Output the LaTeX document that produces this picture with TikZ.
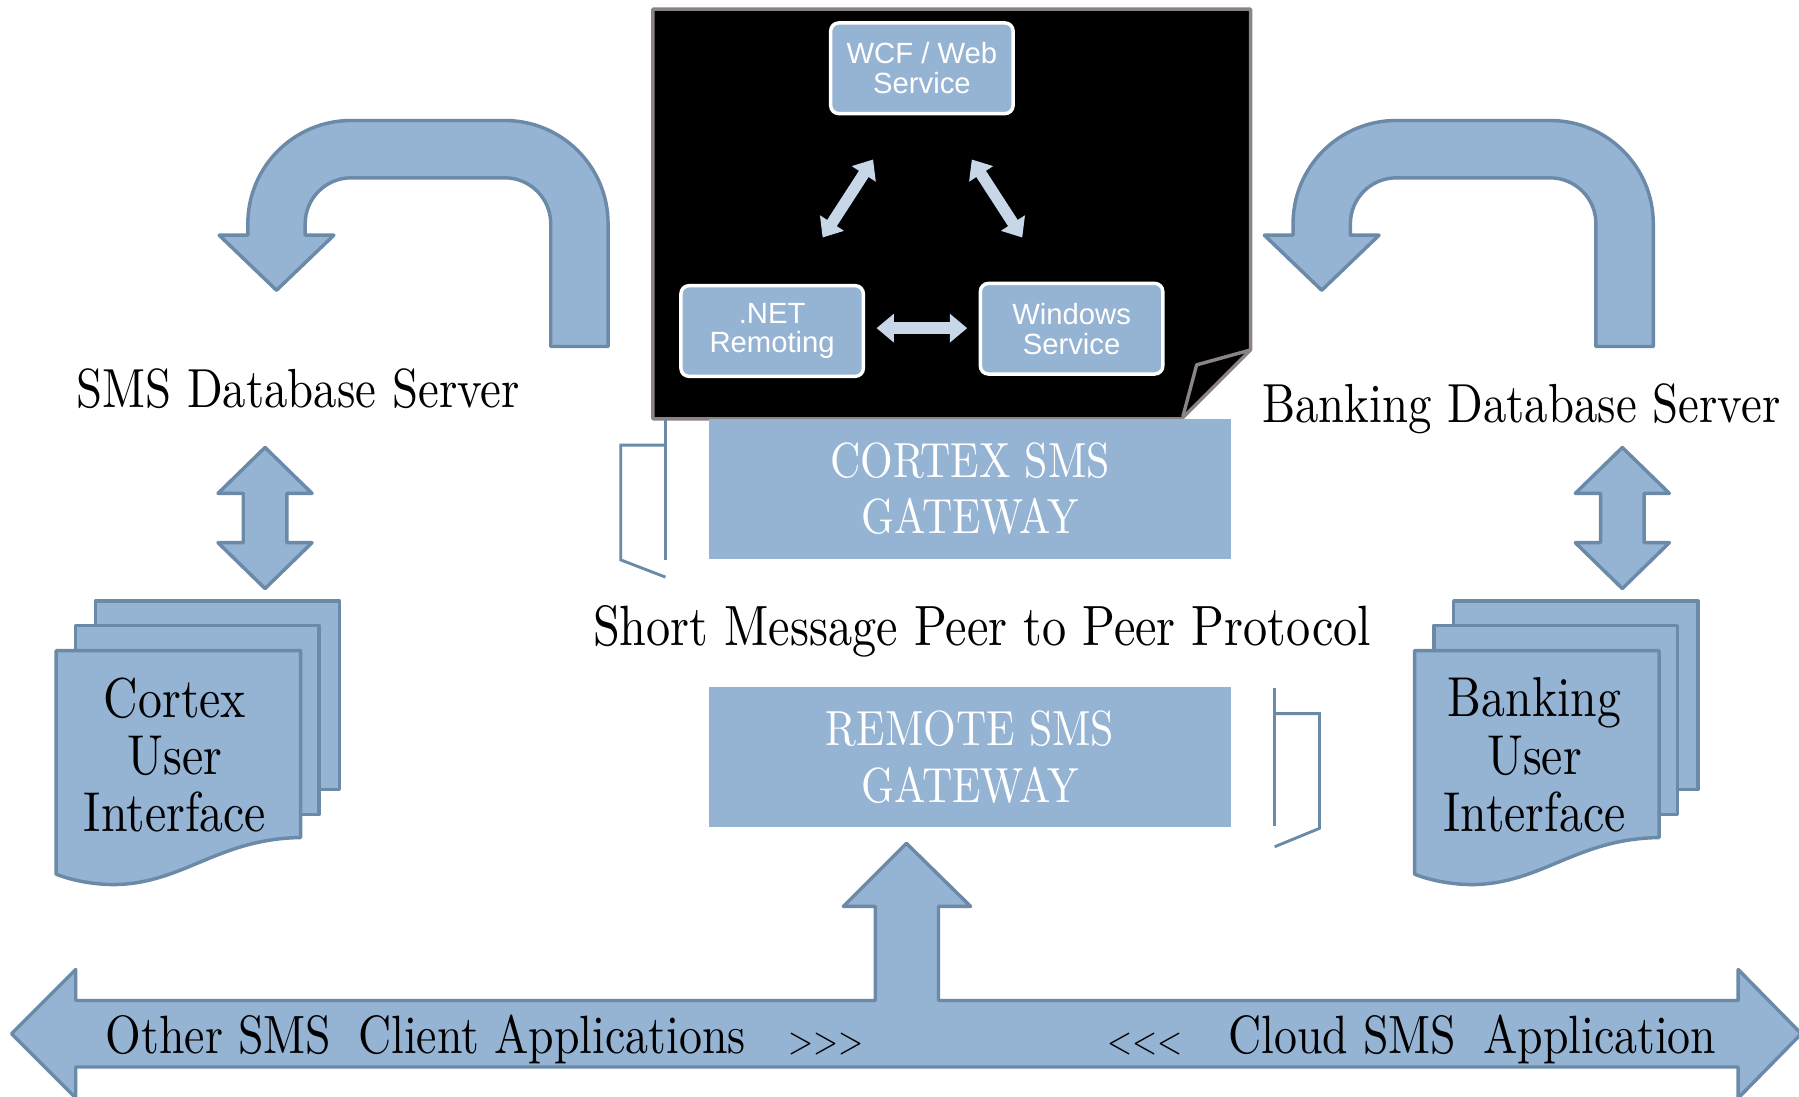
\documentclass[tikz,border=0pt]{standalone}
\usepackage{fontspec}
\newfontfamily\condserif{lmroman10-regular.otf}[FakeStretch=0.85]
\newfontfamily\arialf{Liberation Sans}
\usetikzlibrary{arrows.meta}
\definecolor{fillb}{RGB}{149,179,211}
\definecolor{edgeb}{RGB}{106,138,168}
\definecolor{lightb}{RGB}{200,215,232}
\definecolor{grayo}{RGB}{140,132,132}
\newcommand\smallangles[1]{{\fontsize{33}{33}\selectfont #1}}
\tikzset{
 shapeb/.style={fill=fillb, draw=edgeb, line width=3pt, line join=round},
 bracketline/.style={draw=edgeb, line width=2.5pt},
 innerbox/.style={fill=fillb, draw=white, line width=3pt, rounded corners=7pt, minimum width=159pt, minimum height=79pt, align=center, text=white, font=\arialf\fontsize{25.5}{26}\selectfont, inner sep=0pt},
 gateway/.style={fill=fillb, minimum width=455pt, minimum height=122pt, align=center, text=white, font=\condserif\fontsize{43}{49}\selectfont, inner sep=0pt},
 bigtxt/.style={font=\condserif\fontsize{48}{50}\selectfont, inner sep=0pt, anchor=base},
 doctxt/.style={font=\condserif\fontsize{49}{50}\selectfont, align=center, inner sep=0pt},
 bustxt/.style={font=\condserif\fontsize{47}{50}\selectfont, inner sep=0pt, anchor=base west},
 dblarrow/.style={draw=lightb, line width=10pt, {Triangle[length=15pt,width=24pt]}-{Triangle[length=15pt,width=24pt]}},
 blackbox/.style={fill=black, draw=grayo, line width=3pt, line join=round},
}
\begin{document}
\begin{tikzpicture}[x=1pt,y=-1pt]
\useasboundingbox (0,0) rectangle (1568,956);

% U-turn arrows
\foreach \dx in {0,911}{
\begin{scope}[shift={(\dx,0)}]
\draw[shapeb] (216,205) -- (216,195) .. controls (216,145.3) and (256.3,105) .. (306,105)
  -- (440,105) .. controls (489.7,105) and (530,145.3) .. (530,195)
  -- (530,302) -- (480,302) -- (480,195) .. controls (480,172.9) and (462.1,155) .. (440,155)
  -- (306,155) .. controls (283.9,155) and (266,172.9) .. (266,195)
  -- (266,205) -- (291,205) -- (241,253) -- (191,205) -- cycle;
\end{scope}}

% vertical double arrows
\foreach \dx in {0,1183}{
\begin{scope}[shift={(\dx,0)}]
\draw[shapeb] (231,390) -- (272,430) -- (250,430) -- (250,473) -- (272,473) -- (231,513)
  -- (190,473) -- (212,473) -- (212,430) -- (190,430) -- cycle;
\end{scope}}

% document stacks
\foreach \dx in {0,1184}{
\begin{scope}[shift={(\dx,0)}]
\draw[shapeb] (83,524) rectangle (296,688);
\draw[shapeb] (66,545) rectangle (278,710);
\draw[shapeb] (49,567) -- (262,567) -- (262,730) .. controls (190,731) and (160,770) .. (100,771)
  .. controls (80,771) and (62,767) .. (49,762) -- cycle;
\end{scope}}

% black panel
\draw[blackbox] (569,8) -- (1090,8) -- (1090,305) -- (1030,365) -- (569,365) -- cycle;
\draw[grayo, line width=3pt, line join=round] (1090,305) -- (1043,318) -- (1031,363);

\node[innerbox] (wcf) at (803.5,59.5) {WCF / Web\\Service};
\node[innerbox] (net) at (673,288.5) {.NET\\Remoting};
\node[innerbox] (win) at (934,286.5) {Windows\\Service};

\coordinate (a1s) at (717,207); \coordinate (a1e) at (761,139);
\coordinate (a2s) at (847,139); \coordinate (a2e) at (891,207);
\coordinate (a3s) at (764,286); \coordinate (a3e) at (843,286);
\draw[dblarrow] (a1s) -- (a1e);
\draw[dblarrow] (a2s) -- (a2e);
\draw[dblarrow] (a3s) -- (a3e);

% gateways
\node[gateway] (cortex) at (845.5,426) {CORTEX SMS\\GATEWAY};
\node[gateway] (remote) at (845.5,660) {REMOTE SMS\\GATEWAY};

% brackets
\draw[bracketline] (580,366) -- (580,488);
\draw[bracketline] (580,388) -- (541,388) -- (541,488) -- (580,503);
\draw[bracketline] (1111,600) -- (1111,720);
\draw[bracketline] (1111,622) -- (1150,622) -- (1150,722) -- (1111,738);

% bus arrow
\draw[shapeb] (10,901) -- (66,845) -- (66,872) -- (763,872) -- (763,790) -- (735,790) -- (790,735)
  -- (846,790) -- (818,790) -- (818,872) -- (1515,872) -- (1515,845) -- (1570,901)
  -- (1515,957) -- (1515,930) -- (66,930) -- (66,957) -- cycle;

% texts
\node[bigtxt] (smsdb) at (260,355) {SMS Database Server};
\node[bigtxt] (bankdb) at (1326,368) {Banking Database Server};
\node[bigtxt, font=\condserif\fontsize{49.5}{50}\selectfont] (smpp) at (856,563) {Short Message Peer to Peer Protocol};
\node[doctxt] (cortexui) at (152.5,658) {Cortex\\User\\Interface};
\node[doctxt] (bankui) at (1337.5,658) {Banking\\User\\Interface};
\node[bustxt] (other) at (92,918) {Other SMS\hspace{0.5em}Client Applications\hspace{0.8em}\smallangles{>{}>{}>}};
\node[bustxt] (cloud) at (965,918) {\smallangles{<{}<{}<}\hspace{0.85em}Cloud SMS\hspace{0.5em}Application};
\end{tikzpicture}
\end{document}
